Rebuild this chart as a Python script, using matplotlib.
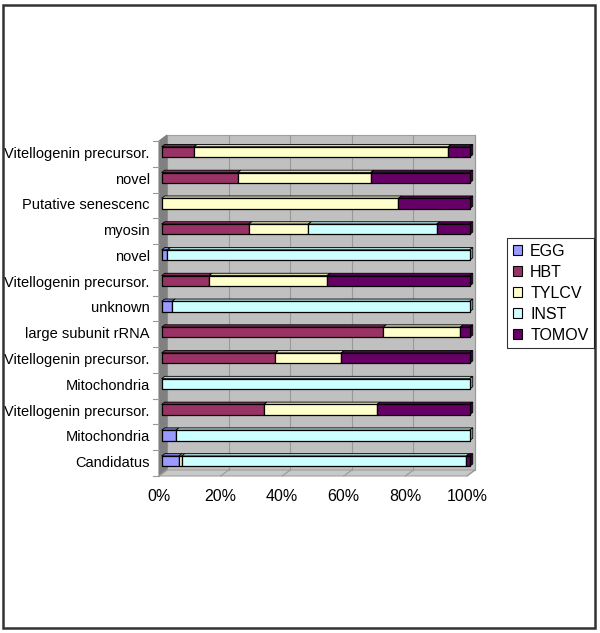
import matplotlib
matplotlib.use("Agg")
import matplotlib.pyplot as plt
import numpy as np
from matplotlib.patches import Polygon, Rectangle, Patch
from matplotlib.colors import to_rgb

plt.rcParams['font.family'] = ['Liberation Sans', 'DejaVu Sans']

categories = ["Vitellogenin precursor.", "novel", "Putative senescenc", "myosin",
              "novel", "Vitellogenin precursor.", "unknown", "large subunit rRNA",
              "Vitellogenin precursor.", "Mitochondria", "Vitellogenin precursor.",
              "Mitochondria", "Candidatus"]
series_names = ["EGG", "HBT", "TYLCV", "INST", "TOMOV"]
egg   = [0, 0, 0, 0, 1.9, 0, 3.4, 0, 0, 0, 0, 4.6, 5.6]
hbt   = [10.5, 24.7, 0, 28.3, 0, 15.4, 0, 71.9, 36.9, 0, 33.2, 0, 0]
tylcv = [82.5, 43.2, 76.9, 19.3, 0, 38.3, 0, 25.0, 21.4, 0, 36.7, 0, 0.9]
inst  = [0, 0, 0, 41.7, 98.1, 0, 96.6, 0, 0, 100, 0, 95.4, 92.4]
tomov = [7.0, 32.1, 23.1, 10.7, 0, 46.3, 0, 3.1, 41.7, 0, 30.1, 0, 1.1]
colors = ["#9999FF", "#993366", "#FFFFCC", "#CCFFFF", "#660066"]
xticks = [0, 20, 40, 60, 80, 100]
xticklabels = ["0%", "20%", "40%", "60%", "80%", "100%"]

W, H = 600, 633
fig = plt.figure(figsize=(W / 100, H / 100), dpi=100)
fig.patch.set_facecolor("white")

# front plane geometry (pixels)
fx0, fx1 = 159, 467
ftop, fbot = 141, 476
ax = fig.add_axes([fx0 / W, 1 - fbot / H, (fx1 - fx0) / W, (fbot - ftop) / H])
ax.set_xlim(0, 100)
n = len(categories)
ax.set_ylim(n - 0.5, -0.5)
ax.axis("off")

px_x = 100 / (fx1 - fx0)          # data units per pixel in x
px_y = n / (fbot - ftop)           # rows per pixel in y
DX = 8 * px_x                      # depth offset
DY = 6 * px_y

def P(x, y, d):
    return (x + d * DX, y - d * DY)

ytop, ybot = -0.5, n - 0.5
# back wall
ax.add_patch(Polygon([P(0, ytop, 1), P(100, ytop, 1), P(100, ybot, 1), P(0, ybot, 1)],
                     closed=True, facecolor="#C0C0C0", edgecolor="#A0A0A0", lw=0.8,
                     clip_on=False, zorder=1))
# side wall
ax.add_patch(Polygon([P(0, ytop, 0), P(0, ytop, 1), P(0, ybot, 1), P(0, ybot, 0)],
                     closed=True, facecolor="#808080", edgecolor="#808080", lw=0.8,
                     clip_on=False, zorder=1))
# floor
ax.add_patch(Polygon([P(0, ybot, 0), P(100, ybot, 0), P(100, ybot, 1), P(0, ybot, 1)],
                     closed=True, facecolor="#C8C8C8", edgecolor="#A0A0A0", lw=0.8,
                     clip_on=False, zorder=1))
# gridlines
for xt in xticks[1:]:
    ax.plot([P(xt, ytop, 1)[0], P(xt, ybot, 1)[0]], [P(xt, ytop, 1)[1], P(xt, ybot, 1)[1]],
            color="#999999", lw=0.8, clip_on=False, zorder=2)
for xt in xticks:
    a, b = P(xt, ybot, 1), P(xt, ybot, 0)
    ax.plot([a[0], b[0]], [a[1], b[1]], color="#999999", lw=0.8, clip_on=False, zorder=2)
# category ticks
for k in range(n + 1):
    y = -0.5 + k
    ax.plot([-6 * px_x, 0], [y, y], color="#999999", lw=0.8, clip_on=False, zorder=2)

# bars
d0, d1 = 0.33, 0.72
bh = 0.40
data = [egg, hbt, tylcv, inst, tomov]

def shade(c, f):
    r, g, b = to_rgb(c)
    return (r * f, g * f, b * f)

for i in range(n):
    left = 0.0
    segs = []
    for s, vals in enumerate(data):
        v = vals[i]
        if v > 0:
            segs.append((left, v, colors[s]))
        left += v
    for j, (l, v, c) in enumerate(segs):
        yt = i - bh / 2
        yb = i + bh / 2
        # top face
        ax.add_patch(Polygon([P(l, yt, d0), P(l + v, yt, d0), P(l + v, yt, d1), P(l, yt, d1)],
                             closed=True, facecolor=shade(c, 0.85), edgecolor="black",
                             lw=0.6, clip_on=False, zorder=3))
        # front face via barh
        fx, fy = P(l, i, d0)
        ax.barh(fy, v, left=fx, height=bh, color=c, edgecolor="black", lw=0.9,
                clip_on=False, zorder=4)
        if j == len(segs) - 1:
            r = l + v
            ax.add_patch(Polygon([P(r, yt, d0), P(r, yt, d1), P(r, yb, d1), P(r, yb, d0)],
                                 closed=True, facecolor=shade(c, 0.6), edgecolor="black",
                                 lw=0.6, clip_on=False, zorder=3))

# category labels
for i, lab in enumerate(categories):
    ax.text(-3.0, i, lab, ha="right", va="center", fontsize=10.5, color="black")
# x tick labels
for xt, lab in zip(xticks, xticklabels):
    ax.text(xt, ybot + 21 * px_y, lab, ha="center", va="center", fontsize=11.5, color="black")

# legend
handles = [Patch(facecolor=c, edgecolor="black", lw=0.8) for c in colors]
leg = fig.legend(handles, series_names, loc="upper left",
                 bbox_to_anchor=(507 / W, 1 - 238 / H), frameon=True, fancybox=False,
                 edgecolor="black", fontsize=11.5, handlelength=0.6, handleheight=0.6,
                 handletextpad=0.5, labelspacing=0.38, borderpad=0.35, borderaxespad=0)
leg.get_frame().set_linewidth(0.8)

# outer border
fig.add_artist(Rectangle((3 / W, 1 - 628 / H), 592 / W, 623 / H, transform=fig.transFigure,
                         fill=False, edgecolor="#333333", lw=1.8))

fig.savefig("out.png", dpi=100, facecolor="white")
